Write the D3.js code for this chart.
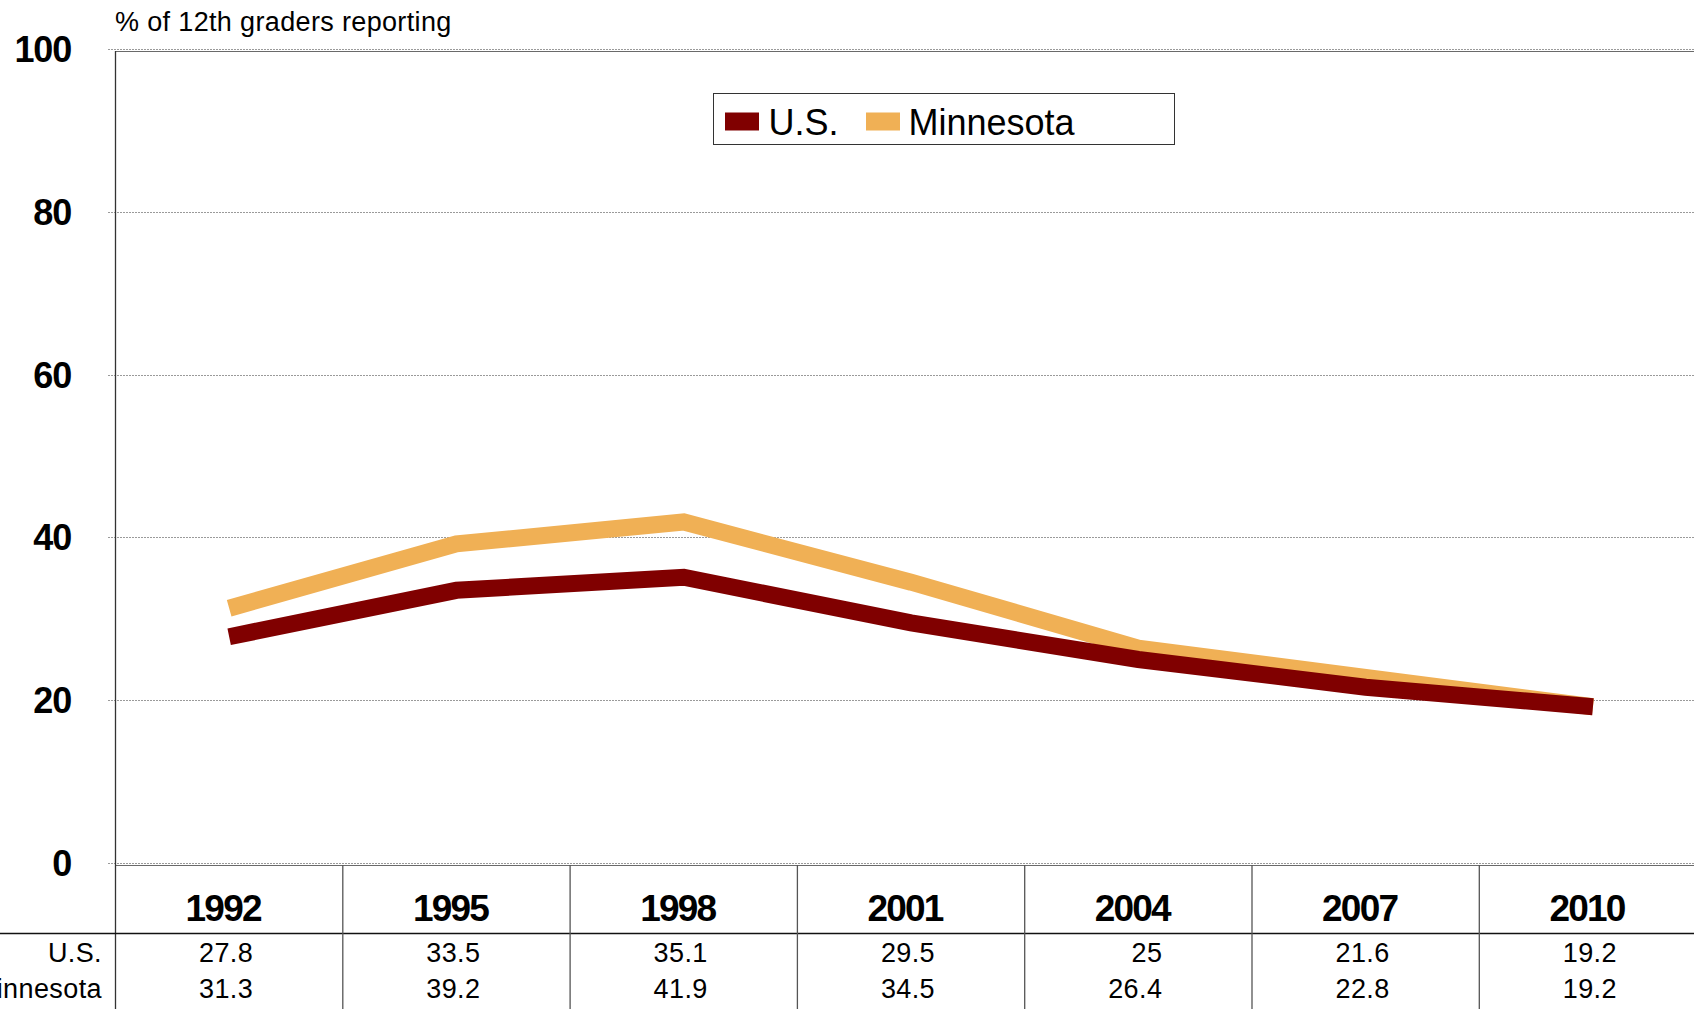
<!DOCTYPE html>
<html lang="en">
	<head>
		<meta charset="utf-8">
		<title>12th graders reporting</title>
		<script type="text/javascript" src="https://cdnjs.cloudflare.com/ajax/libs/d3/7.8.5/d3.min.js"></script>
		<style type="text/css">
			body{
				margin: 0;
				background: #fff;
			}
			text{
				font-family: "Liberation Sans", Arial, sans-serif;
			}
		</style>
	</head>
	<body>
		<script type="text/javascript">

			//Data
			var years = ["1992", "1995", "1998", "2001", "2004", "2007", "2010"];
			var usValues = [27.8, 33.5, 35.1, 29.5, 25, 21.6, 19.2];
			var mnValues = [31.3, 39.2, 41.9, 34.5, 26.4, 22.8, 19.2];
			var seriesNames = ["U.S.", "Minnesota"];
			var yTicks = [0, 20, 40, 60, 80, 100];
			var yTitle = "% of 12th graders reporting";

			var colors = {"U.S.": "#800000", "Minnesota": "#F0B055"};

			//Width and height
			var w = 1694;
			var h = 1009;
			var plotLeft = 115.5;
			var bandW = 227.3;

			var x = d3.scaleBand()
						.domain(years)
						.range([plotLeft, plotLeft + bandW * years.length])
						.padding(0);

			var y = d3.scaleLinear()
						.domain([0, 100])
						.range([863, 49]);

			var svg = d3.select("body")
						.append("svg")
						.attr("width", w)
						.attr("height", h);

			//gridlines (dotted)
			svg.selectAll("line.grid")
			   .data(yTicks)
			   .enter()
			   .append("line")
			   .attr("class", "grid")
			   .attr("x1", 108)
			   .attr("x2", w)
			   .attr("y1", function(d) { return Math.round(y(d)) + 0.5; })
			   .attr("y2", function(d) { return Math.round(y(d)) + 0.5; })
			   .style("stroke", "#9a9a9a")
			   .style("stroke-width", 1)
			   .style("stroke-dasharray", "2,1");

			//plot border: top and bottom solid lines
			svg.append("line")
			   .attr("x1", plotLeft).attr("x2", w)
			   .attr("y1", Math.round(y(100)) + 2.5).attr("y2", Math.round(y(100)) + 2.5)
			   .style("stroke", "#6a6a6a").style("stroke-width", 1);
			svg.append("line")
			   .attr("x1", plotLeft).attr("x2", w)
			   .attr("y1", Math.round(y(0)) + 2.5).attr("y2", Math.round(y(0)) + 2.5)
			   .style("stroke", "#6a6a6a").style("stroke-width", 1);

			//left border, runs down through the table
			svg.append("line")
			   .attr("x1", plotLeft).attr("x2", plotLeft)
			   .attr("y1", Math.round(y(100)) + 2).attr("y2", h)
			   .style("stroke", "#333").style("stroke-width", 1.3);

			//y tick labels
			svg.selectAll("text.ytick")
			   .data(yTicks)
			   .enter()
			   .append("text")
			   .attr("class", "ytick")
			   .attr("x", 71)
			   .attr("y", function(d) { return y(d); })
			   .attr("dy", "0.36em")
			   .attr("text-anchor", "end")
			   .style("font-size", "36px")
			   .style("font-weight", "bold")
			   .style("letter-spacing", "-1.2px")
			   .text(function(d) { return d; });

			//y title
			svg.append("text")
			   .attr("x", 115)
			   .attr("y", 31)
			   .style("font-size", "27px")
			   .style("letter-spacing", "0.35px")
			   .text(yTitle);

			//lines
			var line = d3.line()
						 .x(function(d, i) { return x(years[i]) + x.bandwidth() / 2; })
						 .y(function(d) { return y(d); });

			var series = [
				{name: "Minnesota", values: mnValues},
				{name: "U.S.", values: usValues}
			];

			svg.selectAll("path.series")
			   .data(series)
			   .enter()
			   .append("path")
			   .attr("class", "series")
			   .attr("d", function(d) { return line(d.values); })
			   .style("fill", "none")
			   .style("stroke", function(d) { return colors[d.name]; })
			   .style("stroke-width", 17)
			   .style("stroke-linejoin", "miter")
			   .style("stroke-linecap", "butt");

			//legend
			var legend = svg.append("g").attr("transform", "translate(713.5,93.5)");
			legend.append("rect")
				  .attr("width", 461)
				  .attr("height", 51)
				  .style("fill", "#fff")
				  .style("stroke", "#333")
				  .style("stroke-width", 1);

			var legendPos = [{sx: 11.5, tx: 55}, {sx: 152.5, tx: 195}];
			legend.selectAll("g.item")
				  .data(seriesNames)
				  .enter()
				  .append("g")
				  .attr("class", "item")
				  .each(function(d, i) {
					  var g = d3.select(this);
					  g.append("rect")
					   .attr("x", legendPos[i].sx)
					   .attr("y", 19)
					   .attr("width", 34)
					   .attr("height", 18)
					   .style("fill", colors[d]);
					  g.append("text")
					   .attr("x", legendPos[i].tx)
					   .attr("y", 41)
					   .style("font-size", "36px")
					   .text(d);
				  });

			//data table under the chart
			var tableTop = Math.round(y(0)) + 2;
			var rowLine = 933;

			svg.append("line")
			   .attr("x1", 0).attr("x2", w)
			   .attr("y1", rowLine + 0.5).attr("y2", rowLine + 0.5)
			   .style("stroke", "#111").style("stroke-width", 1.3);

			svg.selectAll("line.divider")
			   .data(years.slice(1).concat(["end"]))
			   .enter()
			   .append("line")
			   .attr("class", "divider")
			   .attr("x1", function(d, i) { return plotLeft + bandW * (i + 1); })
			   .attr("x2", function(d, i) { return plotLeft + bandW * (i + 1); })
			   .attr("y1", tableTop)
			   .attr("y2", h)
			   .style("stroke", "#555")
			   .style("stroke-width", 1.3);

			svg.selectAll("text.year")
			   .data(years)
			   .enter()
			   .append("text")
			   .attr("class", "year")
			   .attr("x", function(d) { return x(d) + x.bandwidth() / 2 - 6; })
			   .attr("y", 921)
			   .attr("text-anchor", "middle")
			   .style("font-size", "37px")
			   .style("font-weight", "bold")
			   .style("letter-spacing", "-1.8px")
			   .text(function(d) { return d; });

			var rows = [
				{name: "U.S.", values: usValues, y: 962},
				{name: "Minnesota", values: mnValues, y: 998}
			];

			rows.forEach(function(r) {
				svg.append("text")
				   .attr("x", 102)
				   .attr("y", r.y)
				   .attr("text-anchor", "end")
				   .style("font-size", "27px")
				   .style("letter-spacing", "0.4px")
				   .text(r.name);

				svg.selectAll("text.val-" + r.name.replace(/\W/g, ""))
				   .data(r.values)
				   .enter()
				   .append("text")
				   .attr("x", function(d, i) { return x(years[i]) + x.bandwidth() / 2 + 24; })
				   .attr("y", r.y)
				   .attr("text-anchor", "end")
				   .style("font-size", "27px")
				   .style("letter-spacing", "0.4px")
				   .text(function(d) { return d; });
			});

		</script>
	</body>
</html>
